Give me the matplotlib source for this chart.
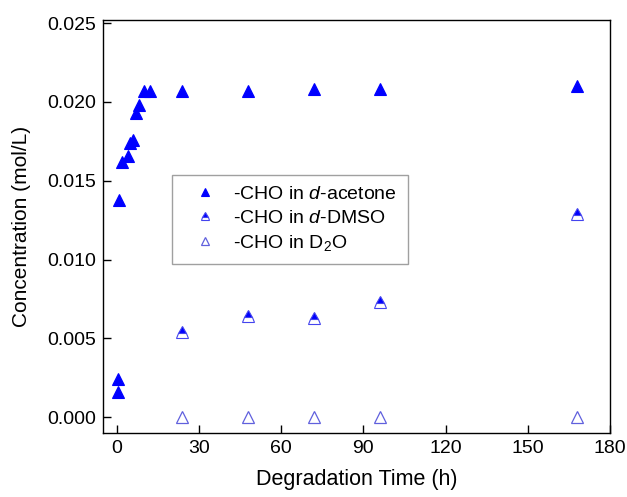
import matplotlib
matplotlib.use("Agg")
import matplotlib.pyplot as plt

plt.rcParams["font.family"] = ["Liberation Sans", "DejaVu Sans"]
plt.rcParams["mathtext.fontset"] = "custom"
plt.rcParams["mathtext.rm"] = "Liberation Sans"
plt.rcParams["mathtext.it"] = "Liberation Sans:italic"

# -CHO in d-acetone
acetone_t = [0.3, 0.3, 1, 2, 4, 5, 6, 7, 8, 10, 12, 24, 48, 72, 96, 168]
acetone_c = [0.0024, 0.0016, 0.0138, 0.0162, 0.0166, 0.0174, 0.0176, 0.0193,
             0.0198, 0.0207, 0.0207, 0.0207, 0.0207, 0.0208, 0.0208, 0.0210]
# -CHO in d-DMSO
dmso_t = [24, 48, 72, 96, 168]
dmso_c = [0.0054, 0.0064, 0.0063, 0.0073, 0.0129]
# -CHO in D2O
d2o_t = [24, 48, 72, 96, 168]
d2o_c = [0.0, 0.0, 0.0, 0.0, 0.0]

x_ticks = [0, 30, 60, 90, 120, 150, 180]
y_ticks = [0.000, 0.005, 0.010, 0.015, 0.020, 0.025]

fig = plt.figure(figsize=(6.27, 4.97), dpi=100)
ax = fig.add_axes([0.1643, 0.1288, 0.8086, 0.831])

ms = 8.5
ax.plot(acetone_t, acetone_c, linestyle="none", marker="^", markersize=ms,
        color="#0000ff", markeredgecolor="#0000ff", markeredgewidth=0.8,
        label="-CHO in $\\mathit{d}$-acetone")
ax.plot(dmso_t, dmso_c, linestyle="none", marker="^", markersize=ms,
        fillstyle="top", markerfacecolor="#0000ff", markerfacecoloralt="white",
        markeredgecolor="#4444ee", markeredgewidth=0.8,
        label="-CHO in $\\mathit{d}$-DMSO")
ax.plot(d2o_t, d2o_c, linestyle="none", marker="^", markersize=ms,
        markerfacecolor="none", markeredgecolor="#6060dd", markeredgewidth=0.9,
        label="-CHO in D$_2$O")

ax.set_xlim(-5, 180)
ax.set_ylim(-0.001, 0.0252)
ax.set_xticks(x_ticks)
ax.set_yticks(y_ticks)
ax.set_yticklabels([f"{v:.3f}" for v in y_ticks])
ax.tick_params(direction="in", length=6, width=1, labelsize=14, pad=5)
for s in ax.spines.values():
    s.set_linewidth(1.0)

ax.set_xlabel("Degradation Time (h)", fontsize=15.5, labelpad=9)
ax.set_ylabel("Concentration (mol/L)", fontsize=15, labelpad=12)

leg = ax.legend(loc="upper left", bbox_to_anchor=(0.136, 0.625), borderaxespad=0,
                fontsize=14, frameon=True, fancybox=False, handletextpad=0.3,
                borderpad=0.55, labelspacing=0.32, handlelength=2.3,
                markerscale=0.75)
leg.get_frame().set_edgecolor("#888888")
leg.get_frame().set_linewidth(1.0)

fig.savefig("out.png", dpi=100)
